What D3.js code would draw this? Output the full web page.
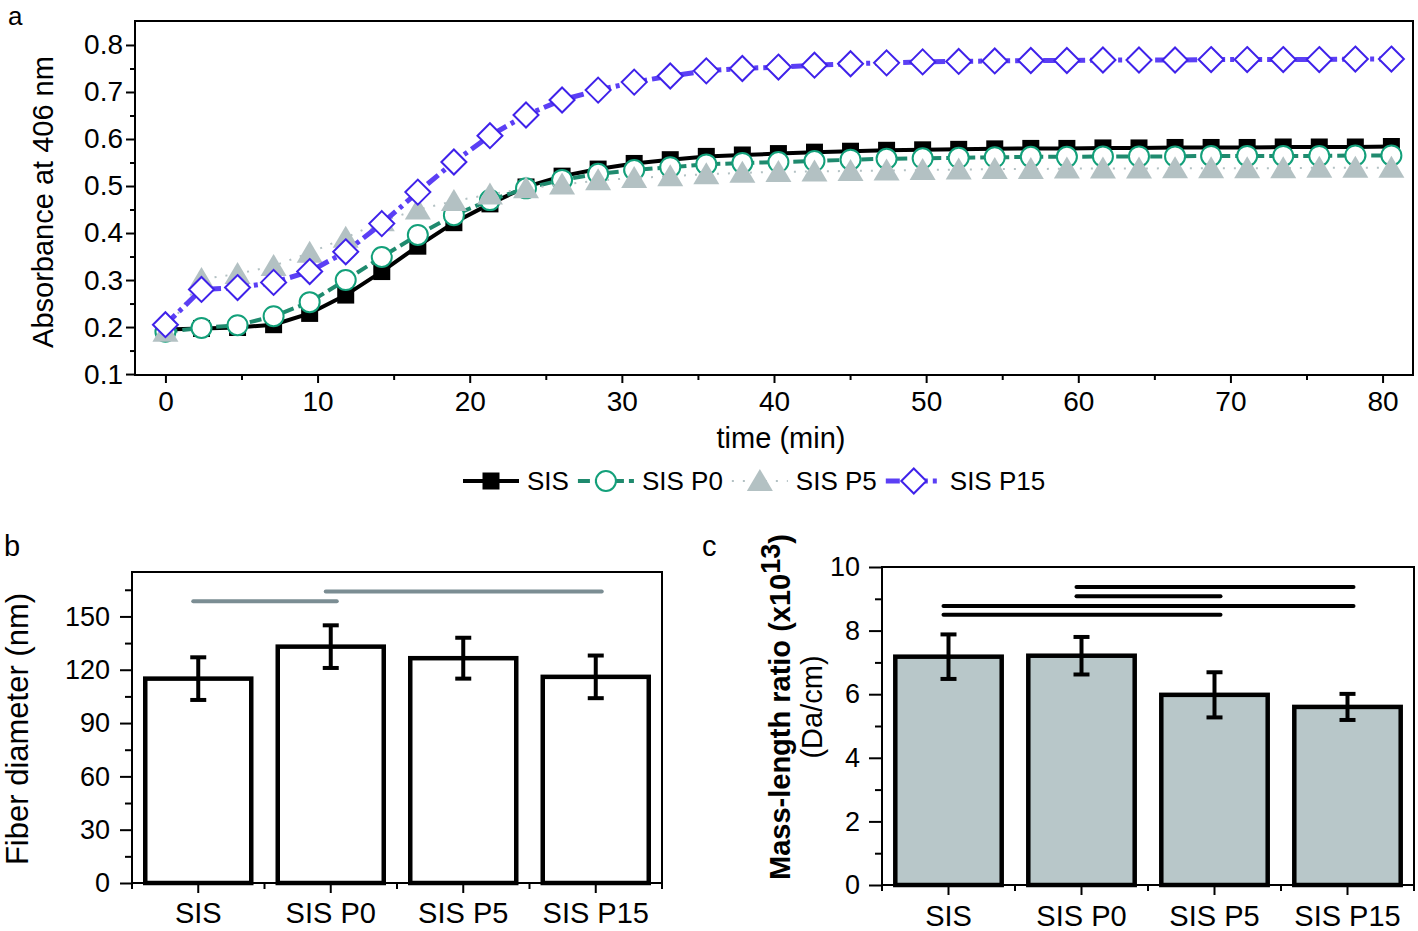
<!DOCTYPE html>
<html>
<head>
<meta charset="utf-8">
<script src="https://cdn.jsdelivr.net/npm/d3@7"></script>
<style>
  body { margin: 0; background: #fff; }
  text { font-family: "Liberation Sans", Arial, sans-serif; fill: #000; }
</style>
</head>
<body>
<div class="chart"></div>
<script>
// panel a: absorbance over time
var times = [0, 2.37, 4.74, 7.11, 9.48, 11.85, 14.22, 16.59, 18.96, 21.33, 23.7, 26.07, 28.44, 30.81, 33.18,
  35.55, 37.92, 40.29, 42.66, 45.03, 47.4, 49.77, 52.14, 54.51, 56.88, 59.25, 61.62, 63.99, 66.36, 68.73,
  71.1, 73.47, 75.84, 78.21, 80.58];
var sisAbs = [0.195, 0.197, 0.199, 0.205, 0.229, 0.268, 0.318, 0.372, 0.422, 0.462, 0.498, 0.521, 0.536, 0.548, 0.556,
  0.563, 0.566, 0.569, 0.572, 0.574, 0.576, 0.577, 0.578, 0.579, 0.580, 0.580, 0.581, 0.581, 0.582, 0.582,
  0.582, 0.583, 0.583, 0.583, 0.584];
var p0Abs = [0.190, 0.198, 0.204, 0.223, 0.253, 0.300, 0.349, 0.396, 0.438, 0.470, 0.495, 0.513, 0.526, 0.534, 0.540,
  0.546, 0.549, 0.551, 0.553, 0.556, 0.558, 0.559, 0.560, 0.561, 0.562, 0.562, 0.563, 0.563, 0.563, 0.564,
  0.564, 0.564, 0.564, 0.565, 0.565];
var p5Abs = [0.190, 0.302, 0.313, 0.330, 0.358, 0.390, 0.425, 0.450, 0.468, 0.482, 0.495, 0.503, 0.512, 0.517, 0.521,
  0.525, 0.528, 0.530, 0.531, 0.532, 0.533, 0.534, 0.535, 0.536, 0.536, 0.537, 0.537, 0.537, 0.538, 0.538,
  0.538, 0.538, 0.539, 0.539, 0.539];
var p15Abs = [0.205, 0.280, 0.284, 0.295, 0.318, 0.360, 0.420, 0.487, 0.551, 0.607, 0.651, 0.683, 0.704, 0.721, 0.734,
  0.745, 0.750, 0.753, 0.757, 0.760, 0.762, 0.764, 0.765, 0.766, 0.767, 0.767, 0.768, 0.768, 0.768, 0.769,
  0.769, 0.769, 0.769, 0.770, 0.770];
var absTicks = [0.1, 0.2, 0.3, 0.4, 0.5, 0.6, 0.7, 0.8];
var absMinor = [0.15, 0.25, 0.35, 0.45, 0.55, 0.65, 0.75];
var timeTicks = [0, 10, 20, 30, 40, 50, 60, 70, 80];
var timeMinor = [5, 15, 25, 35, 45, 55, 65, 75];

// panels b and c
var groups = ["SIS", "SIS P0", "SIS P5", "SIS P15"];
var fiberMean = [115, 133, 126.5, 116];
var fiberErr = [12, 12, 11.5, 12];
var fiberTicks = [0, 30, 60, 90, 120, 150];
var fiberMinor = [15, 45, 75, 105, 135, 165];
var fiberSig = [[0, 1, 158.5], [1, 3, 164]];   // from group, to group, level
var mlrMean = [7.18, 7.21, 5.98, 5.6];
var mlrErr = [0.7, 0.59, 0.71, 0.41];
var mlrTicks = [0, 2, 4, 6, 8, 10];
var mlrMinor = [1, 3, 5, 7, 9];
var mlrSig = [[1, 3, 9.37], [1, 2, 9.08], [0, 3, 8.77], [0, 2, 8.5]];

var svg = d3.select(".chart").append("svg")
  .attr("width", 1418)
  .attr("height", 931);

// ---------- panel a ----------
var ax = d3.scaleLinear().domain([-2, 82]).range([135, 1413]);
var ay = d3.scaleLinear().domain([0.098, 0.851]).range([375, 21]);

function styleAxis(g, fs) {
  g.select(".domain").remove();
  g.selectAll(".tick line").attr("stroke", "#000").attr("stroke-width", 2);
  g.selectAll(".tick text").style("font-size", fs + "px");
}

svg.append("g").attr("transform", "translate(0,375)")
  .call(d3.axisBottom(ax).tickValues(timeTicks).tickSize(8).tickPadding(8))
  .call(styleAxis, 28);
svg.append("g").attr("transform", "translate(0,375)")
  .call(d3.axisBottom(ax).tickValues(timeMinor).tickSize(5).tickFormat(""))
  .call(styleAxis, 28);
svg.append("g").attr("transform", "translate(135,0)")
  .call(d3.axisLeft(ay).tickValues(absTicks).tickSize(9).tickPadding(3).tickFormat(d3.format(".1f")))
  .call(styleAxis, 28);
svg.append("g").attr("transform", "translate(135,0)")
  .call(d3.axisLeft(ay).tickValues(absMinor).tickSize(5).tickFormat(""))
  .call(styleAxis, 28);

svg.append("rect")
  .attr("x", 135).attr("y", 21).attr("width", 1413 - 135).attr("height", 375 - 21)
  .attr("fill", "none").attr("stroke", "#000").attr("stroke-width", 2);

var sqPath = "M-8.5,-8.5H8.5V8.5H-8.5Z";
var circPath = d3.symbol().type(d3.symbolCircle).size(Math.PI * 100)();
var triPath = "M0,-12L13,10H-13Z";
var diaPath = "M0,-12.5L12.5,0L0,12.5L-12.5,0Z";

var series = [
  { name: "SIS", values: sisAbs, line: "#000", width: 4, dash: null, mark: sqPath, fill: "#000", stroke: "none", sw: 0 },
  { name: "SIS P0", values: p0Abs, line: "#1f8a6e", width: 4, dash: "12,5", mark: circPath, fill: "#fff", stroke: "#13a07a", sw: 2 },
  { name: "SIS P5", values: p5Abs, line: "#b3c1c3", width: 2, dash: "2,9", mark: triPath, fill: "#b3c1c3", stroke: "none", sw: 0 },
  { name: "SIS P15", values: p15Abs, line: "#5b3ff5", width: 5, dash: "14,5,4,5", mark: diaPath, fill: "#fff", stroke: "#3f22ea", sw: 2 }
];

var line = d3.line().x(function(d, i) { return ax(times[i]); }).y(function(d) { return ay(d); });

series.forEach(function(s) {
  var g = svg.append("g");
  g.append("path")
    .attr("d", line(s.values))
    .attr("fill", "none")
    .attr("stroke", s.line)
    .attr("stroke-width", s.width)
    .attr("stroke-dasharray", s.dash);
  g.selectAll("path.mk").data(s.values).enter()
    .append("path")
    .attr("class", "mk")
    .attr("d", s.mark)
    .attr("transform", function(d, i) { return "translate(" + ax(times[i]) + "," + ay(d) + ")"; })
    .attr("fill", s.fill)
    .attr("stroke", s.stroke)
    .attr("stroke-width", s.sw);
});

svg.append("text")
  .attr("transform", "translate(53,202) rotate(-90)")
  .attr("text-anchor", "middle")
  .style("font-size", "29px")
  .text("Absorbance at 406 nm");
svg.append("text")
  .attr("x", 781).attr("y", 448)
  .attr("text-anchor", "middle")
  .style("font-size", "29px")
  .text("time (min)");
svg.append("text").attr("x", 8).attr("y", 25).style("font-size", "26px").text("a");

// legend
var lx = 463;
series.forEach(function(s) {
  var g = svg.append("g");
  g.append("line")
    .attr("x1", lx).attr("x2", lx + 56).attr("y1", 481).attr("y2", 481)
    .attr("stroke", s.line).attr("stroke-width", s.width)
    .attr("stroke-dasharray", s.dash);
  g.append("path")
    .attr("d", s.mark)
    .attr("transform", "translate(" + (lx + 28) + ",481)")
    .attr("fill", s.fill).attr("stroke", s.stroke).attr("stroke-width", s.sw);
  var t = g.append("text")
    .attr("x", lx + 64).attr("y", 490)
    .style("font-size", "26px")
    .text(s.name);
  lx = lx + 64 + t.node().getComputedTextLength() + 9;
});

// ---------- bar panels ----------
function barPanel(opt) {
  var x = d3.scaleBand().domain(groups).range([opt.left, opt.right]).paddingInner(0.2).paddingOuter(0.1);
  var y = d3.scaleLinear().domain(opt.domain).range([opt.bottom, opt.top]);

  svg.append("g").attr("transform", "translate(0," + opt.bottom + ")")
    .call(d3.axisBottom(x).tickSize(10).tickPadding(opt.xpad))
    .call(styleAxis, 29);

  var bounds = groups.map(function(g) { return x(g) + x.bandwidth() / 2 - x.step() / 2; });
  bounds.push(bounds[bounds.length - 1] + x.step());
  svg.append("g").selectAll("line").data(bounds).enter()
    .append("line")
    .attr("x1", function(d) { return d; }).attr("x2", function(d) { return d; })
    .attr("y1", opt.bottom).attr("y2", opt.bottom + 6)
    .attr("stroke", "#000").attr("stroke-width", 2);

  svg.append("g").attr("transform", "translate(" + opt.left + ",0)")
    .call(d3.axisLeft(y).tickValues(opt.ticks).tickSize(opt.tsize).tickPadding(opt.ypad))
    .call(styleAxis, opt.yfs);
  svg.append("g").attr("transform", "translate(" + opt.left + ",0)")
    .call(d3.axisLeft(y).tickValues(opt.minor).tickSize(7).tickFormat(""))
    .call(styleAxis, opt.yfs);

  svg.append("rect")
    .attr("x", opt.left).attr("y", opt.top)
    .attr("width", opt.right - opt.left).attr("height", opt.bottom - opt.top)
    .attr("fill", "none").attr("stroke", "#000").attr("stroke-width", 2);

  svg.append("g").selectAll("rect").data(opt.mean).enter()
    .append("rect")
    .attr("x", function(d, i) { return x(groups[i]); })
    .attr("y", function(d) { return y(d); })
    .attr("width", x.bandwidth())
    .attr("height", function(d) { return opt.bottom - y(d); })
    .attr("fill", opt.fill)
    .attr("stroke", "#000")
    .attr("stroke-width", 4.5);

  var eb = svg.append("g").attr("stroke", "#000").attr("stroke-width", 4);
  opt.mean.forEach(function(m, i) {
    var cx = x(groups[i]) + x.bandwidth() / 2;
    var hi = y(m + opt.err[i]), lo = y(m - opt.err[i]);
    eb.append("line").attr("x1", cx).attr("x2", cx).attr("y1", hi).attr("y2", lo);
    eb.append("line").attr("x1", cx - 8).attr("x2", cx + 8).attr("y1", hi).attr("y2", hi);
    eb.append("line").attr("x1", cx - 8).attr("x2", cx + 8).attr("y1", lo).attr("y2", lo);
  });

  svg.append("g").selectAll("line").data(opt.sig).enter()
    .append("line")
    .attr("x1", function(d) { return x(groups[d[0]]) + x.bandwidth() / 2 - 5; })
    .attr("x2", function(d) { return x(groups[d[1]]) + x.bandwidth() / 2 + 6; })
    .attr("y1", function(d) { return y(d[2]); })
    .attr("y2", function(d) { return y(d[2]); })
    .attr("stroke", opt.sigColor)
    .attr("stroke-width", 4)
    .attr("stroke-linecap", "round");
}

barPanel({
  left: 132, right: 662, top: 572, bottom: 883, domain: [0, 175],
  ticks: fiberTicks, minor: fiberMinor, tsize: 12, ypad: 10, yfs: 27, xpad: 9,
  mean: fiberMean, err: fiberErr, fill: "#fff", sig: fiberSig, sigColor: "#7b8d93"
});
barPanel({
  left: 882, right: 1414, top: 567, bottom: 885, domain: [0, 10],
  ticks: mlrTicks, minor: mlrMinor, tsize: 13, ypad: 9, yfs: 27, xpad: 10,
  mean: mlrMean, err: mlrErr, fill: "#b8c7c9", sig: mlrSig, sigColor: "#000"
});

svg.append("text")
  .attr("transform", "translate(28,729) rotate(-90)")
  .attr("text-anchor", "middle")
  .style("font-size", "31px")
  .text("Fiber diameter (nm)");
svg.append("text").attr("x", 4).attr("y", 556).style("font-size", "29px").text("b");

var ml = svg.append("text")
  .attr("transform", "translate(790,880) rotate(-90)")
  .style("font-size", "29px")
  .style("font-weight", "bold");
ml.append("tspan").text("Mass-length ratio (x10");
ml.append("tspan").attr("dy", -10).style("font-size", "27px").text("13");
ml.append("tspan").attr("dy", 10).text(")");
svg.append("text")
  .attr("transform", "translate(822,707) rotate(-90)")
  .attr("text-anchor", "middle")
  .style("font-size", "29px")
  .text("(Da/cm)");
svg.append("text").attr("x", 702).attr("y", 556).style("font-size", "29px").text("c");
</script>
</body>
</html>
